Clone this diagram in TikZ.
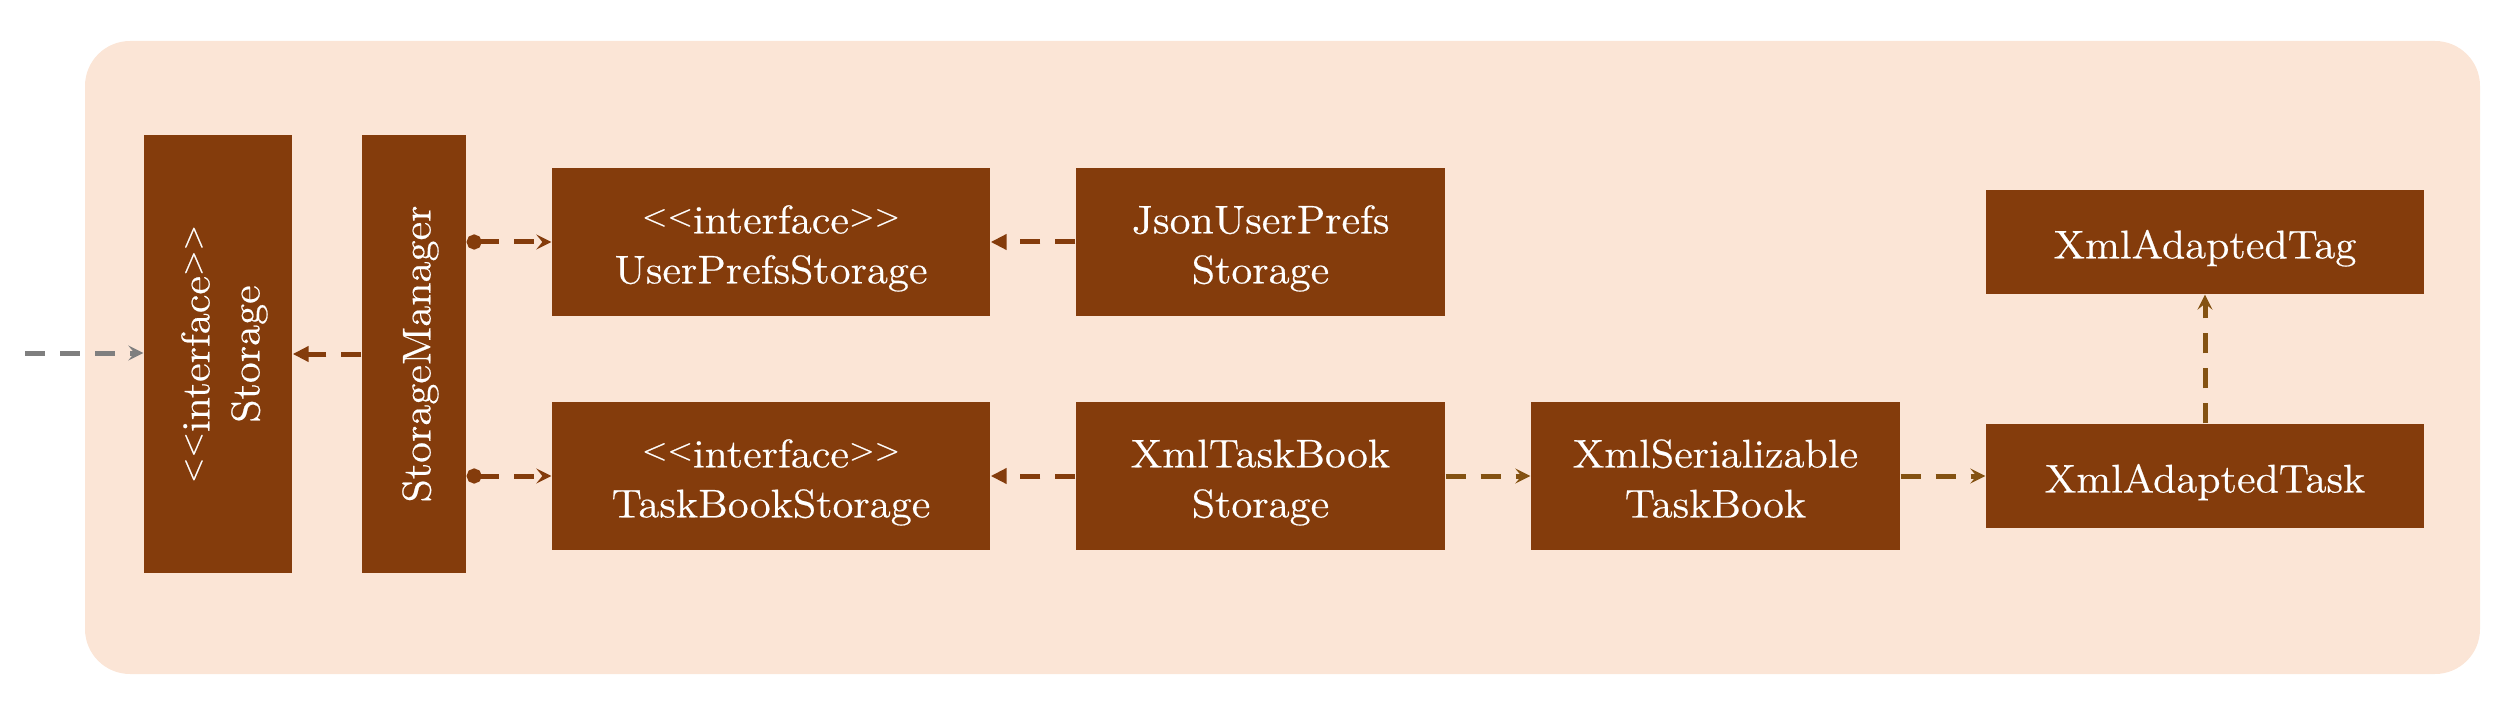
\documentclass[tikz,border=0pt]{standalone}
\usepackage{fontspec}
\setmainfont{lmroman12-regular}[Extension=.otf,FakeStretch=1.07,FakeBold=0.5]
\usetikzlibrary{arrows.meta}
\definecolor{bgc}{HTML}{FBE5D6}
\definecolor{boxc}{HTML}{843C0C}
\definecolor{arrA}{HTML}{843C0C}
\definecolor{arrB}{HTML}{845212}
\definecolor{arrG}{HTML}{7F7F7F}
\newcommand\tst{\rule{0pt}{12.3pt}}
\newcommand\bst{\rule[-2.4pt]{0pt}{2.4pt}}
\newcommand\lgl{\raisebox{2.3pt}{\fontsize{9.4}{9.4}\selectfont<}}
\newcommand\rgl{\raisebox{2.3pt}{\fontsize{9.4}{9.4}\selectfont>}}
\begin{document}
\begin{tikzpicture}[x=0.3pt,y=-0.3pt,
  cls/.style={fill=boxc,inner sep=0pt,text=white,align=center,font=\fontsize{12}{15}\selectfont},
  lbl/.style={inner sep=0pt,text=white,align=center,font=\fontsize{12}{15}\selectfont},
  dep/.style={line width=1.5pt,dash pattern=on 6pt off 4.5pt},
  stl/.style={-{Stealth[length=4.5pt,width=4.5pt,inset=1.8pt]}},
  tri/.style={-{Triangle[length=4.8pt,width=4.5pt]}},
  dotstl/.style={{Circle[length=4.5pt]}-{Stealth[length=4.5pt,width=4.5pt,inset=1.8pt]}}]
\useasboundingbox (0,0) rectangle (2516,706);
\fill[bgc,rounded corners=13.5pt] (85,41) rectangle (2480,674);

\node[cls,minimum width=44.4pt,minimum height=131.4pt] (storage) at (218,354) {};
\node[lbl,rotate=90] (storagetxt) at (storage.center) {\tst\lgl\lgl interface\rgl\rgl\\Storage\bst};
\node[cls,minimum width=31.2pt,minimum height=131.4pt] (sm) at (414,354) {};
\node[lbl,rotate=90] (smtxt) at (sm.center) {\tst StorageManager\bst};

\node[cls,minimum width=131.4pt,minimum height=44.4pt] (ups) at (771,242) {\tst\lgl\lgl interface\rgl\rgl\\UserPrefsStorage\bst};
\node[cls,minimum width=131.4pt,minimum height=44.4pt] (tbs) at (771,476) {\tst\lgl\lgl interface\rgl\rgl\\TaskBookStorage\bst};
\node[cls,minimum width=110.7pt,minimum height=44.4pt] (json) at (1260.5,242) {\tst JsonUserPrefs\\Storage\bst};
\node[cls,minimum width=110.7pt,minimum height=44.4pt] (xtb) at (1260.5,476) {\tst XmlTaskBook\\Storage\bst};
\node[cls,minimum width=110.7pt,minimum height=44.4pt] (xs) at (1715.5,476) {\tst XmlSerializable\\TaskBook\bst};
\node[cls,minimum width=131.4pt,minimum height=31.2pt] (tag) at (2205,242) {\tst XmlAdaptedTag\bst};
\node[cls,minimum width=131.4pt,minimum height=31.2pt] (task) at (2205,476) {\tst XmlAdaptedTask\bst};

\coordinate (in) at (25,353);
\draw[dep,arrG,stl] (in) -- (in -| storage.west);
\draw[dep,arrA,tri] (sm.west) -- (storage.east);
\draw[dep,arrA,dotstl] (sm.east |- ups.west) -- (ups.west);
\draw[dep,arrA,dotstl] (sm.east |- tbs.west) -- (tbs.west);
\draw[dep,arrA,tri] (json.west) -- (ups.east);
\draw[dep,arrA,tri] (xtb.west) -- (tbs.east);
\draw[dep,arrB,stl] (xtb.east) -- (xs.west);
\draw[dep,arrB,stl] (xs.east) -- (task.west);
\draw[dep,arrB,stl] (task.north) -- (tag.south);
\end{tikzpicture}
\end{document}
